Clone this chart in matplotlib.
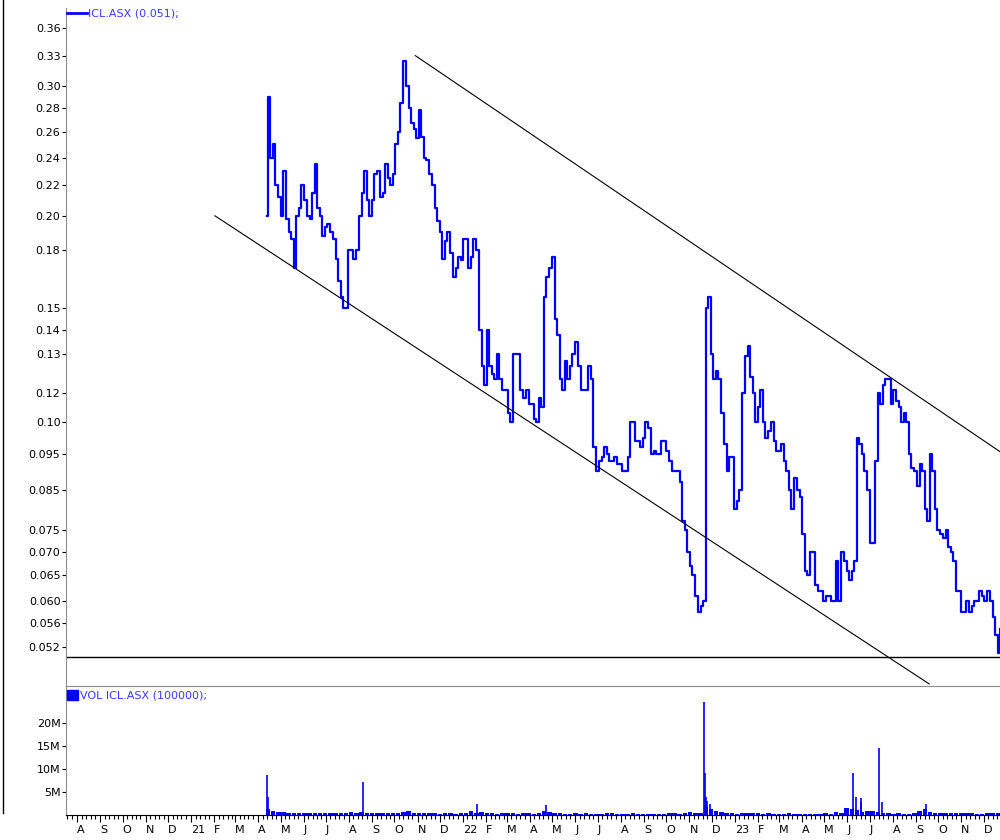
import matplotlib

matplotlib.use("Agg")
import matplotlib.dates as mdates
import matplotlib.pyplot as plt
import pandas as pd
from matplotlib.lines import Line2D
from matplotlib.patches import Rectangle
from matplotlib.ticker import FuncFormatter, NullLocator

plt.rcParams["font.family"] = ["DejaVu Sans"]

# listing day, then weekly closes
listing_day = "2021-04-13"
listing_price = 0.200
close = [
    0.290, 0.250, 0.212, 0.230, 0.190, 0.170, 0.205, 0.210, 0.198, 0.235,
    0.200, 0.193, 0.190, 0.175, 0.155, 0.150, 0.180, 0.180, 0.215, 0.210,
    0.210, 0.230, 0.215, 0.225, 0.228, 0.260, 0.325, 0.280, 0.262, 0.278,
    0.240, 0.228, 0.205, 0.190, 0.185, 0.178, 0.170, 0.174, 0.186, 0.176,
    0.180, 0.125, 0.140, 0.122, 0.130, 0.116, 0.108, 0.130, 0.130, 0.113,
    0.111, 0.106, 0.113, 0.155, 0.170, 0.145, 0.120, 0.127, 0.125, 0.135,
    0.116, 0.116, 0.120, 0.090, 0.094, 0.095, 0.093, 0.092, 0.090, 0.094,
    0.105, 0.099, 0.100, 0.103, 0.096, 0.095, 0.099, 0.093, 0.090, 0.087,
    0.075, 0.067, 0.061, 0.059, 0.150, 0.130, 0.123, 0.108, 0.090, 0.094,
    0.082, 0.115, 0.133, 0.115, 0.110, 0.105, 0.102, 0.099, 0.096, 0.093,
    0.085, 0.088, 0.083, 0.066, 0.070, 0.063, 0.062, 0.061, 0.060, 0.068,
    0.070, 0.066, 0.066, 0.100, 0.095, 0.085, 0.072, 0.115, 0.118, 0.120,
    0.116, 0.110, 0.108, 0.095, 0.090, 0.092, 0.080, 0.095, 0.080, 0.074,
    0.075, 0.070, 0.062, 0.058, 0.060, 0.059, 0.060, 0.061, 0.062, 0.057,
    0.051,
]
# mid-week prices (three days after each weekly close)
midweek = [
    0.240, 0.220, 0.200, 0.198, 0.186, 0.200, 0.220, 0.200, 0.215, 0.205,
    0.188, 0.195, 0.186, 0.163, 0.150, 0.180, 0.175, 0.200, 0.230, 0.200,
    0.228, 0.212, 0.235, 0.220, 0.250, 0.285, 0.300, 0.267, 0.255, 0.256,
    0.238, 0.220, 0.197, 0.175, 0.190, 0.165, 0.176, 0.186, 0.170, 0.186,
    0.140, 0.118, 0.125, 0.120, 0.120, 0.116, 0.105, 0.130, 0.116, 0.116,
    0.111, 0.105, 0.110, 0.165, 0.176, 0.138, 0.116, 0.120, 0.130, 0.125,
    0.116, 0.125, 0.097, 0.093, 0.097, 0.093, 0.094, 0.092, 0.090, 0.105,
    0.099, 0.097, 0.105, 0.095, 0.095, 0.099, 0.096, 0.090, 0.090, 0.077,
    0.070, 0.065, 0.058, 0.060, 0.155, 0.120, 0.120, 0.098, 0.094, 0.080,
    0.085, 0.129, 0.121, 0.105, 0.116, 0.100, 0.105, 0.096, 0.098, 0.090,
    0.080, 0.085, 0.074, 0.065, 0.070, 0.062, 0.060, 0.061, 0.060, 0.060,
    0.068, 0.064, 0.068, 0.098, 0.090, 0.072, 0.093, 0.111, 0.120, 0.111,
    0.112, 0.105, 0.105, 0.091, 0.086, 0.090, 0.077, 0.090, 0.075, 0.073,
    0.071, 0.068, 0.062, 0.058, 0.058, 0.060, 0.062, 0.060, 0.060, 0.054,
    0.055,
]

# weekly background volume, millions
weekly_volume = [
    1.2, 0.8, 0.6, 0.7, 0.5, 0.4, 0.5, 0.4, 0.4, 0.4,
    0.4, 0.5, 0.4, 0.4, 0.5, 0.4, 0.6, 0.4, 0.7, 0.5,
    0.5, 0.4, 0.5, 0.4, 0.4, 0.5, 0.6, 0.8, 0.4, 0.4,
    0.4, 0.5, 0.4, 0.3, 0.4, 0.4, 0.3, 0.4, 0.5, 0.8,
    0.5, 0.6, 0.5, 0.4, 0.3, 0.4, 0.5, 0.4, 0.3, 0.4,
    0.4, 0.3, 0.4, 0.8, 0.6, 0.4, 0.4, 0.3, 0.3, 0.4,
    0.3, 0.4, 0.3, 0.3, 0.3, 0.4, 0.4, 0.3, 0.3, 0.3,
    0.4, 0.3, 0.3, 0.3, 0.3, 0.3, 0.3, 0.4, 0.4, 0.3,
    0.4, 0.6, 0.5, 0.4, 1.8, 1.2, 0.8, 0.7, 0.5, 0.4,
    0.3, 0.4, 0.5, 0.4, 0.4, 0.3, 0.4, 0.3, 0.3, 0.3,
    0.4, 0.3, 0.3, 0.3, 0.3, 0.3, 0.3, 0.4, 0.3, 0.6,
    0.5, 1.5, 1.4, 1.0, 0.7, 0.8, 0.9, 0.6, 0.4, 0.4,
    0.3, 0.4, 0.3, 0.3, 0.4, 0.8, 1.2, 0.7, 0.5, 0.4,
    0.4, 0.5, 0.5, 0.4, 0.4, 0.5, 0.3, 0.3, 0.4, 0.5,
    0.4,
]

# single-day volume spikes, millions
spike_days = [
    "2021-04-13", "2021-04-14", "2021-08-20", "2022-01-20", "2022-04-22",
    "2022-11-21", "2022-11-22", "2022-11-23", "2022-11-24", "2022-11-28",
    "2023-06-09", "2023-06-13", "2023-06-19", "2023-06-20",
    "2023-07-14", "2023-07-17", "2023-09-14",
]
spike_volume = [
    8.8, 3.9, 7.2, 2.3, 2.1,
    24.6, 9.2, 3.9, 3.0, 2.3,
    9.1, 3.9, 3.6, 2.8,
    14.6, 2.9, 2.3,
]

# hand-drawn channel and last price line
lower_channel_days = ["2021-02-02", "2023-09-19"]
lower_channel_price = [0.200, 0.0463]
upper_channel_days = ["2021-10-29", "2023-12-23"]
upper_channel_price = [0.330, 0.0957]
last_price_line = 0.0503

price_ticks = [0.36, 0.33, 0.30, 0.28, 0.26, 0.24, 0.22, 0.20, 0.18, 0.15, 0.14,
               0.13, 0.115, 0.105, 0.095, 0.085, 0.075, 0.070, 0.065, 0.060,
               0.056, 0.052]
price_tick_labels = ["0.36", "0.33", "0.30", "0.28", "0.26", "0.24", "0.22",
                     "0.20", "0.18", "0.15", "0.14", "0.13", "0.12", "0.10",
                     "0.095", "0.085", "0.075", "0.070", "0.065", "0.060",
                     "0.056", "0.052"]
volume_ticks = [5, 10, 15, 20]
volume_tick_labels = ["5M", "10M", "15M", "20M"]

BLUE = "#0000ff"
TEXT_BLUE = "#3a3aff"
GREY = "#8c8c8c"

week_dates = pd.date_range("2021-04-14", periods=len(close), freq="7D")
series = pd.concat([
    pd.Series(close, index=week_dates),
    pd.Series(midweek, index=week_dates + pd.Timedelta(days=3)),
]).sort_index()
price_dates = [pd.Timestamp(listing_day)] + list(series.index)
prices = [listing_price] + list(series.values)
x_range = (pd.Timestamp("2020-07-17"), pd.Timestamp("2023-12-23"))

fig = plt.figure(figsize=(10, 8.4), dpi=100)
ax = fig.add_axes([0.066, 0.1833, 0.934, 0.8072])
axv = fig.add_axes([0.066, 0.0298, 0.934, 0.1535], sharex=ax)

# price panel, drawn as steps like the charting package
ax.plot(price_dates, prices, color=BLUE, lw=1.6, drawstyle="steps-post")
ax.plot(pd.to_datetime(lower_channel_days), lower_channel_price, color="black", lw=0.8)
ax.plot(pd.to_datetime(upper_channel_days), upper_channel_price, color="black", lw=0.8)
ax.axhline(last_price_line, color="black", lw=1)
ax.set_yscale("log")
ax.set_ylim(0.046, 0.383)
ax.set_xlim(*x_range)
ax.set_yticks(price_ticks)
ax.set_yticklabels(price_tick_labels)
ax.yaxis.set_minor_locator(NullLocator())
ax.tick_params(axis="y", which="major", length=3, width=0.8, pad=1, labelsize=8,
               direction="out", color="black")
ax.tick_params(axis="x", which="both", bottom=False, labelbottom=False)
for side in ("top", "right"):
    ax.spines[side].set_visible(False)
ax.spines["left"].set_color(GREY)
ax.spines["bottom"].set_color(GREY)

# volume panel
axv.bar(week_dates, weekly_volume, width=6, color=BLUE, align="center", lw=0)
axv.vlines(pd.to_datetime(spike_days), 0, spike_volume, color=BLUE, lw=1.2)
axv.set_ylim(0, 28.1)
axv.set_yticks(volume_ticks)
axv.set_yticklabels(volume_tick_labels)
axv.tick_params(axis="y", length=3, width=0.8, pad=1, labelsize=8)
axv.xaxis.set_major_locator(mdates.MonthLocator())
axv.xaxis.set_minor_locator(mdates.DayLocator(bymonthday=[7, 13, 19, 25]))


def month_label(value, pos):
    day = mdates.num2date(value)
    return f"{day:%y}" if day.month == 1 else f"{day:%b}"[0]


axv.xaxis.set_major_formatter(FuncFormatter(month_label))
axv.tick_params(axis="x", which="major", length=5, width=0.8, pad=2, labelsize=8)
axv.tick_params(axis="x", which="minor", length=3, width=0.8)
for label in axv.get_xticklabels():
    label.set_horizontalalignment("left")
axv.spines["right"].set_visible(False)
axv.spines["top"].set_color(GREY)
axv.spines["left"].set_color(GREY)
axv.spines["bottom"].set_color("black")
axv.set_xlim(*x_range)

# legends drawn like the charting package does
fig.add_artist(Line2D([0.067, 0.087], [1 - 13 / 840] * 2, color=BLUE, lw=2))
fig.text(0.088, 1 - 13 / 840, "ICL.ASX (0.051);", color=TEXT_BLUE, fontsize=8, va="center")
fig.add_artist(Rectangle((0.067, 1 - 700 / 840), 0.011, 10 / 840, color=BLUE))
fig.text(0.080, 1 - 695 / 840, "VOL ICL.ASX (100000);", color=TEXT_BLUE, fontsize=8, va="center")

# frame edge of the neighbouring window
fig.add_artist(Line2D([0.0025, 0.0025], [1.0, 1 - 813 / 840], color="black", lw=1))

fig.savefig("out.png", dpi=100)
